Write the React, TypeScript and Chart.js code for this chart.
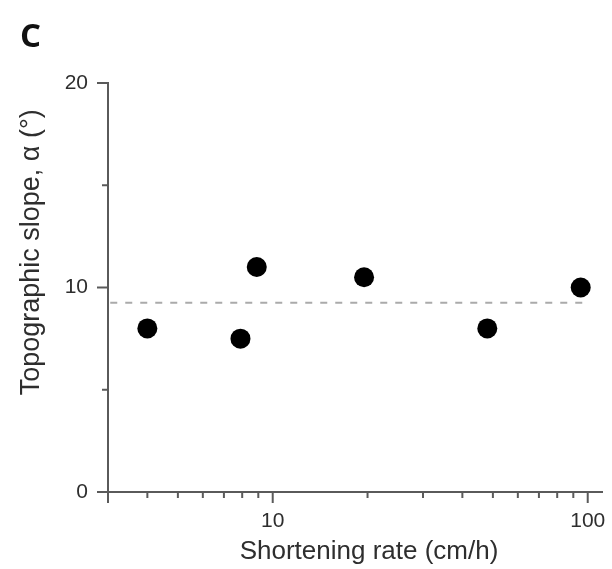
import React, { useEffect, useRef } from "react";
import { Chart, registerables } from "chart.js";

Chart.register(...registerables);

// Data
const shorteningRate = [4, 7.9, 8.9, 19.5, 48, 95]; // cm/h
const topoSlope = [8.0, 7.5, 11.0, 10.5, 8.0, 10.0]; // degrees
const meanSlope = 9.25;
const meanLineX = [3.05, 98];
const xRange = [3.0, 111];
const yRange = [0, 20];
const yLabelTicks = [0, 10, 20];

const panelLabel = "C";
const xTitle = "Shortening rate (cm/h)";
const yTitle = "Topographic slope, \u03b1 (\u00b0)";

const FONT = "'Liberation Sans', Arial, sans-serif";
const AXIS_COLOR = "#5a5a5a";
const TEXT_COLOR = "#2e2e2e";

const isDecade = (v: number) => {
  const l = Math.log10(v);
  return Math.abs(l - Math.round(l)) < 1e-9;
};
const isIntSignificand = (v: number) => {
  const p = Math.pow(10, Math.floor(Math.log10(v) + 1e-9));
  const s = v / p;
  return Math.abs(s - Math.round(s)) < 1e-9;
};

const decorPlugin = {
  id: "decor",
  afterDraw(chart: any) {
    const ctx = chart.ctx;
    const { left, right, top, bottom } = chart.chartArea;
    const xs = chart.scales.x;
    const ys = chart.scales.y;
    ctx.save();
    ctx.strokeStyle = AXIS_COLOR;
    ctx.lineWidth = 2;
    // x tick marks (log scale)
    xs.ticks.forEach((t: any) => {
      const v = t.value;
      if (v > xs.max || !isIntSignificand(v)) return;
      const px = xs.getPixelForValue(v);
      const len = isDecade(v) || v === xs.min ? 11 : 6;
      ctx.beginPath();
      ctx.moveTo(px, bottom);
      ctx.lineTo(px, bottom + len);
      ctx.stroke();
    });
    // y tick marks
    ys.ticks.forEach((t: any) => {
      const v = t.value;
      const py = ys.getPixelForValue(v);
      const len = yLabelTicks.includes(v) ? 11 : 6;
      ctx.beginPath();
      ctx.moveTo(left, py);
      ctx.lineTo(left - len, py);
      ctx.stroke();
    });
    // panel label
    ctx.fillStyle = "#111";
    ctx.font = `bold 33px 'Open Sans', 'DejaVu Sans', sans-serif`;
    ctx.textAlign = "left";
    ctx.textBaseline = "alphabetic";
    ctx.fillText(panelLabel, 20, 47);
    // axis titles
    ctx.fillStyle = TEXT_COLOR;
    ctx.font = `26px ${FONT}`;
    ctx.textAlign = "center";
    ctx.textBaseline = "middle";
    ctx.fillText(xTitle, (left + right) / 2 + 14, bottom + 60);
    ctx.save();
    ctx.font = `27px ${FONT}`;
    ctx.translate(left - 76, top + (bottom - top) * 0.414);
    ctx.rotate(-Math.PI / 2);
    ctx.fillText(yTitle, 0, 0);
    ctx.restore();
    ctx.restore();
  },
};

export default function App() {
  const ref = useRef<HTMLCanvasElement | null>(null);
  useEffect(() => {
    if (!ref.current) return;
    const chart = new Chart(ref.current, {
      type: "scatter",
      data: {
        datasets: [
          {
            type: "scatter",
            data: shorteningRate.map((x, i) => ({ x, y: topoSlope[i] })),
            backgroundColor: "#000",
            borderColor: "#000",
            pointRadius: 10,
            pointBorderWidth: 0,
            order: 1,
          },
          {
            type: "line",
            data: meanLineX.map((x) => ({ x, y: meanSlope })),
            borderColor: "#aaaaaa",
            borderWidth: 2,
            borderDash: [7, 8],
            pointRadius: 0,
            showLine: true,
            order: 2,
          } as any,
        ],
      },
      options: {
        responsive: false,
        animation: false,
        layout: { padding: { left: 0, right: 10, top: 83, bottom: 0 } },
        plugins: {
          legend: { display: false },
          tooltip: { enabled: false },
        },
        scales: {
          x: {
            type: "logarithmic",
            min: xRange[0],
            max: xRange[1],
            afterFit: (s: any) => {
              s.height = 77;
            },
            border: { display: true, color: AXIS_COLOR, width: 2 },
            grid: {
              drawOnChartArea: false,
              drawTicks: true,
              tickLength: 11,
              color: "rgba(0,0,0,0)",
            },
            ticks: {
              autoSkip: false,
              maxRotation: 0,
              padding: 6,
              color: TEXT_COLOR,
              font: { family: FONT, size: 21 },
              callback: (v: any) => (isDecade(Number(v)) ? String(v) : ""),
            },
          },
          y: {
            type: "linear",
            min: yRange[0],
            max: yRange[1],
            afterFit: (s: any) => {
              s.width = 108;
            },
            border: { display: true, color: AXIS_COLOR, width: 2 },
            grid: {
              drawOnChartArea: false,
              drawTicks: true,
              tickLength: 11,
              color: "rgba(0,0,0,0)",
            },
            ticks: {
              stepSize: 5,
              padding: 9,
              color: TEXT_COLOR,
              font: { family: FONT, size: 21 },
              callback: (v: any) => (yLabelTicks.includes(Number(v)) ? String(v) : ""),
            },
          },
        },
      },
      plugins: [decorPlugin],
    });
    return () => chart.destroy();
  }, []);
  return (
    <div style={{ position: "absolute", left: 0, top: 0, width: 612, height: 569, background: "#fff" }}>
      <canvas ref={ref} width={612} height={569} />
    </div>
  );
}
